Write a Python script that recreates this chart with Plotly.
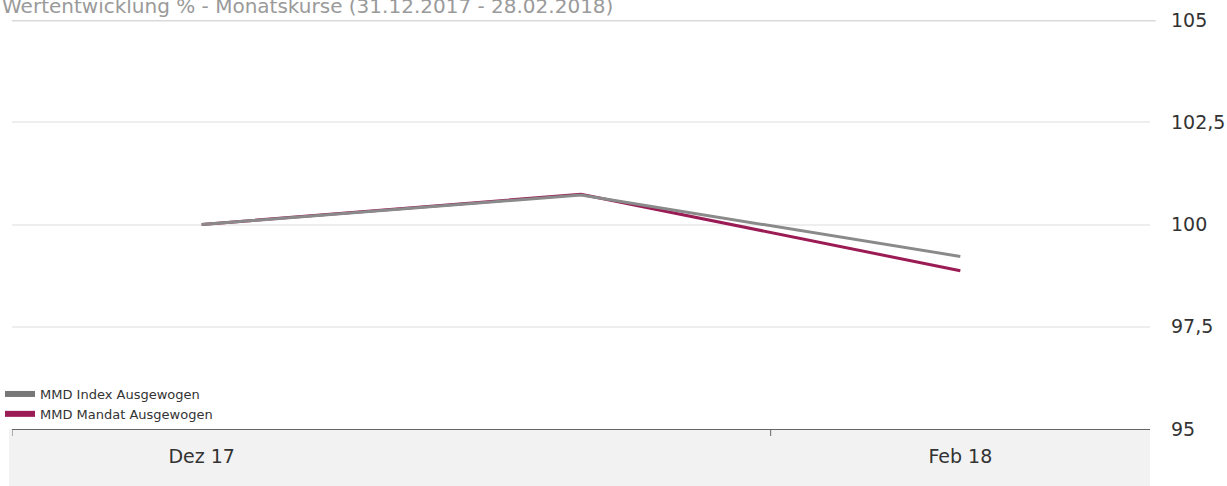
import plotly.graph_objects as go

categories = ["Dez 17", "Jan 18", "Feb 18"]
index_values = [100.0, 100.72, 99.22]
mandat_values = [100.0, 100.74, 98.87]
x_tick_labels = ["Dez 17", "Feb 18"]
y_tick_values = [95, 97.5, 100, 102.5, 105]

GRAY = "#8a8a8a"
RED = "#9b1b55"
FONT = "DejaVu Sans"

fig = go.Figure()
fig.add_trace(go.Scatter(x=categories, y=mandat_values, mode="lines",
                         line=dict(color=RED, width=3), showlegend=False,
                         name="MMD Mandat Ausgewogen"))
fig.add_trace(go.Scatter(x=categories, y=index_values, mode="lines",
                         line=dict(color=GRAY, width=3), showlegend=False,
                         name="MMD Index Ausgewogen"))
# legend entries
fig.add_trace(go.Scatter(x=[None], y=[None], mode="lines",
                         line=dict(color="#777777", width=6),
                         name="MMD Index Ausgewogen"))
fig.add_trace(go.Scatter(x=[None], y=[None], mode="lines",
                         line=dict(color=RED, width=6),
                         name="MMD Mandat Ausgewogen"))

fig.update_layout(
    width=1227, height=486,
    margin=dict(l=12, r=77, t=20, b=57, autoexpand=False),
    paper_bgcolor="white", plot_bgcolor="white",
    separators=",.",
    font=dict(family=FONT, color="#333333"),
    showlegend=True,
    legend=dict(x=-12/1138, y=0.0, xanchor="left", yanchor="bottom",
                bgcolor="rgba(0,0,0,0)", font=dict(size=13, color="#333333"),
                tracegroupgap=0, itemwidth=30),
    xaxis=dict(type="category", categoryorder="array", categoryarray=categories,
               range=[-0.5, 2.5], tickvals=x_tick_labels, ticktext=x_tick_labels,
               ticks="", showgrid=False, showline=True, linecolor="#666666",
               linewidth=1, tickfont=dict(size=19, color="#333333"),
               ticklabelstandoff=10, zeroline=False, fixedrange=True,
               automargin=False),
    yaxis=dict(side="right", range=[95, 105], tickvals=y_tick_values,
               ticks="", showgrid=True, gridcolor="#eeeeee", gridwidth=2,
               zeroline=False, tickfont=dict(size=19, color="#333333"),
               ticklabelstandoff=20, showline=False, automargin=False),
)

# grey band behind the x-axis labels
fig.add_shape(type="rect", xref="paper", yref="paper",
              x0=-3/1138, x1=1.0, y0=-57/409, y1=0,
              fillcolor="#f2f2f2", line=dict(width=0), layer="below")
# top rule
fig.add_shape(type="line", xref="paper", yref="y",
              x0=0, x1=1.005, y0=105, y1=105,
              line=dict(color="#d9d9d9", width=3))
# boundary ticks on x-axis
for xb in [-0.5, 1.5]:
    fig.add_shape(type="line", xref="x", yref="paper",
                  x0=xb, x1=xb, y0=0, y1=-7/409,
                  line=dict(color="#666666", width=1))

fig.add_annotation(text="Wertentwicklung % - Monatskurse (31.12.2017 - 28.02.2018)",
                   xref="paper", yref="paper", x=-12/1138, y=1,
                   xanchor="left", yanchor="middle", yshift=14,
                   showarrow=False, font=dict(size=20, color="#9a9a9a", family=FONT))

fig.write_html("out.html", config={"displayModeBar": False},
               post_script="document.body.style.margin='0';")
